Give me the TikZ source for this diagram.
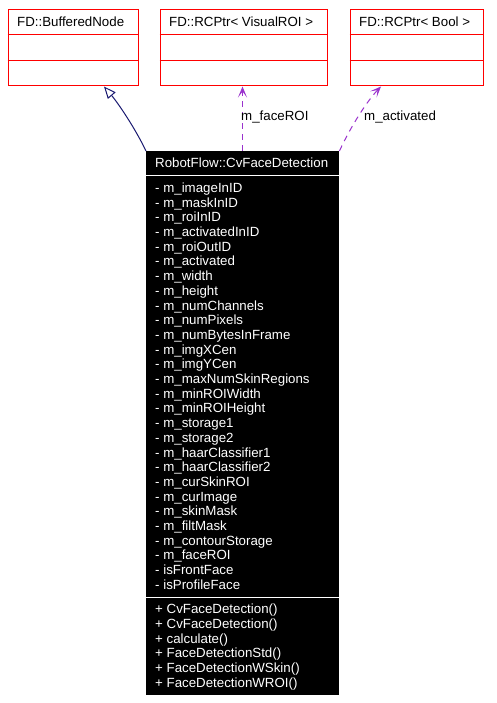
\documentclass[tikz,border=0pt]{standalone}
\usepackage{fontspec}
\setmainfont{Liberation Sans}
\usepackage{xcolor}
\usetikzlibrary{calc,arrows.meta}
\definecolor{boxred}{HTML}{FF0000}
\definecolor{usepurple}{HTML}{9A32CD}
\definecolor{inhnavy}{HTML}{191970}

\begin{document}
\begin{tikzpicture}[x=1pt, y=-1pt,
    every node/.style={font=\fontsize{13.3}{14.7}\selectfont, inner sep=0pt},
    classbox/.style={draw=boxred, line width=1pt, anchor=north west, minimum width=#1, minimum height=76pt},
    classname/.style={anchor=base west},
    member/.style={anchor=base west, text=white},
    usearrow/.style={usepurple, line width=1pt, dash pattern=on 6pt off 5pt, -{Stealth[length=11pt, width=9pt, inset=6pt]}},
    inharrow/.style={inhnavy, line width=1pt, -{Triangle[open, length=12pt, width=10pt]}}]
        \useasboundingbox (0,0) rectangle (496,703);
        % base and member classes
        \node[classbox=130pt] (buffered) at (7.5,9.5) {};
        \node[classbox=167pt] (visualroi) at (159.5,9.5) {};
        \node[classbox=133pt] (boolptr) at (349.5,9.5) {};
        \node[classname] (bufferedname) at (17,26.4) {FD::BufferedNode};
        \node[classname] (visualroiname) at (169,26.4) {FD::RCPtr< VisualROI >};
        \node[classname] (boolptrname) at (359,26.4) {FD::RCPtr< Bool >};
        \draw[boxred, line width=1pt] ($(buffered.north west)+(0,25)$) -- ($(buffered.north east)+(0,25)$);
        \draw[boxred, line width=1pt] ($(buffered.north west)+(0,51)$) -- ($(buffered.north east)+(0,51)$);
        \draw[boxred, line width=1pt] ($(visualroi.north west)+(0,25)$) -- ($(visualroi.north east)+(0,25)$);
        \draw[boxred, line width=1pt] ($(visualroi.north west)+(0,51)$) -- ($(visualroi.north east)+(0,51)$);
        \draw[boxred, line width=1pt] ($(boolptr.north west)+(0,25)$) -- ($(boolptr.north east)+(0,25)$);
        \draw[boxred, line width=1pt] ($(boolptr.north west)+(0,51)$) -- ($(boolptr.north east)+(0,51)$);

        % main class
        \node[fill=black, anchor=north west, minimum width=193pt, minimum height=544pt] (main) at (146,151) {};
        \node[member] (mainname) at (155,167.7) {RobotFlow::CvFaceDetection};
        \draw[white, line width=1pt] ($(main.north west)+(0,24.5)$) -- ($(main.north east)+(0,24.5)$);
        \draw[white, line width=1pt] ($(main.north west)+(0,446.5)$) -- ($(main.north east)+(0,446.5)$);
        % attributes
        \foreach \attr [count=\i from 0] in {m\_imageInID, m\_maskInID, m\_roiInID, m\_activatedInID,
            m\_roiOutID, m\_activated, m\_width, m\_height, m\_numChannels, m\_numPixels,
            m\_numBytesInFrame, m\_imgXCen, m\_imgYCen, m\_maxNumSkinRegions, m\_minROIWidth,
            m\_minROIHeight, m\_storage1, m\_storage2, m\_haarClassifier1, m\_haarClassifier2,
            m\_curSkinROI, m\_curImage, m\_skinMask, m\_filtMask, m\_contourStorage,
            m\_faceROI, isFrontFace, isProfileFace}
            \node[member] (attr\i) at (155,192.4+14.7*\i) {- \attr};
        % methods
        \foreach \meth [count=\i from 0] in {CvFaceDetection(), CvFaceDetection(), calculate(),
            FaceDetectionStd(), FaceDetectionWSkin(), FaceDetectionWROI()}
            \node[member] (meth\i) at (155,613.7+14.7*\i) {+ \meth};

        % connectors
        \draw[inharrow] (main.north west) .. controls (135,128) and (118,103) .. ($(buffered.south west)+(96.5,0)$);
        \draw[usearrow] ($(main.north west)+(96.5,0)$) -- ($(visualroi.south west)+(83,0)$);
        \draw[usearrow] (main.north east) .. controls (352,124) and (368,100) .. ($(boolptr.south west)+(31.5,0)$);
        % labels
        \node[classname] (facelabel) at (241,120.7) {m\_faceROI};
        \node[classname] (activelabel) at (364,120.7) {m\_activated};
    \end{tikzpicture}
\end{document}
